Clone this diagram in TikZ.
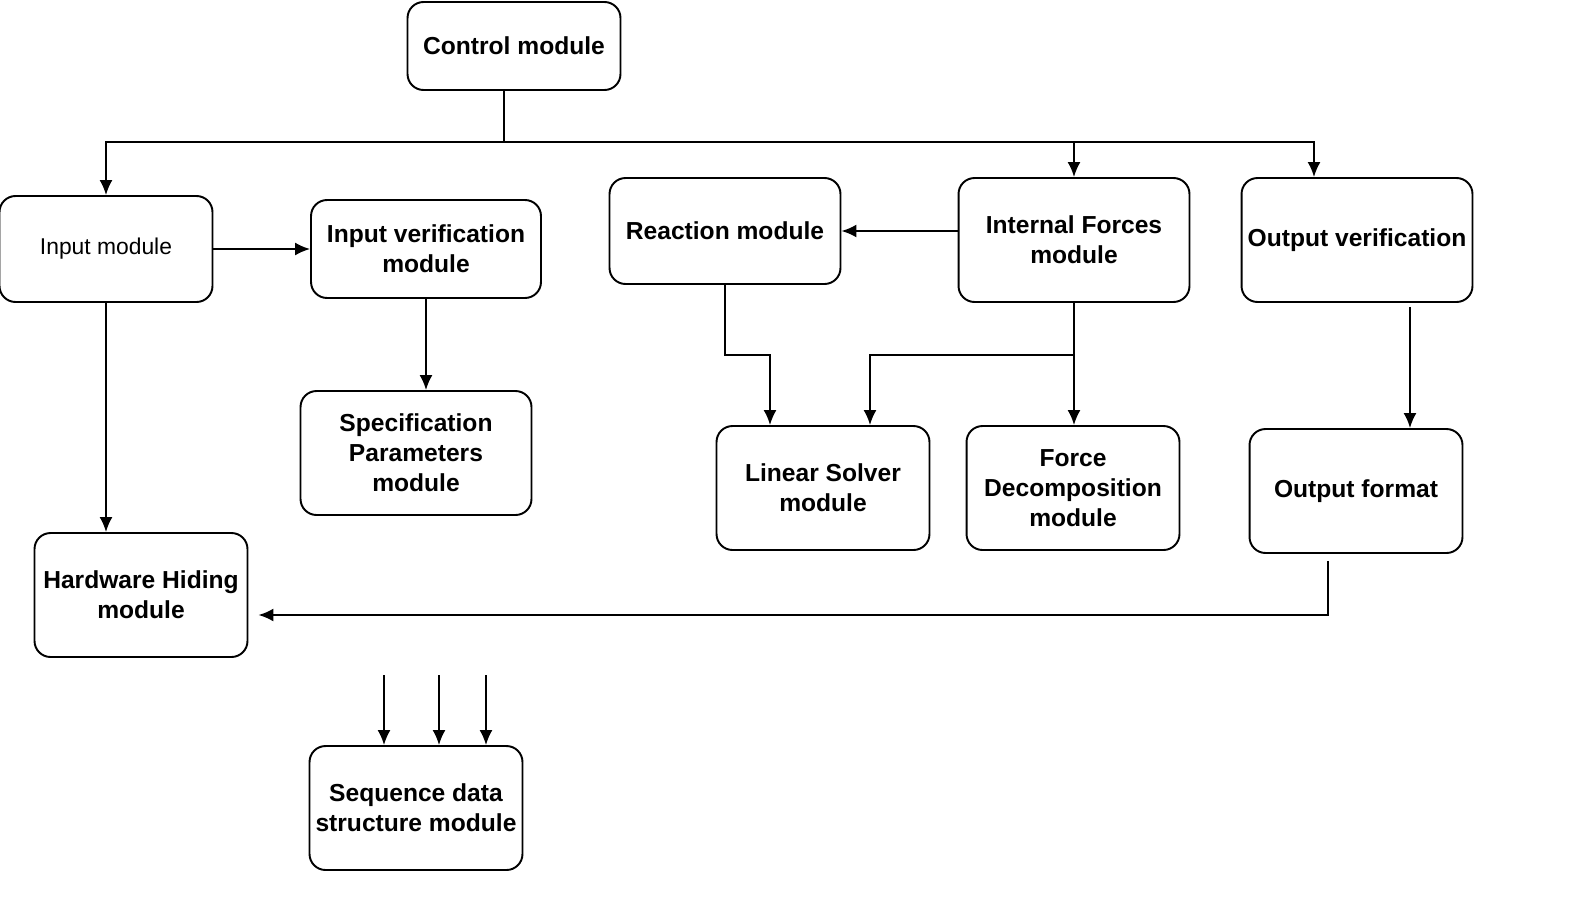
\documentclass[tikz,border=0pt]{standalone}
\usepackage{fontspec}
\setmainfont{Liberation Sans}
\usetikzlibrary{arrows.meta}
\begin{document}
\begin{tikzpicture}[x=0.02cm, y=-0.02cm, line width=1.1pt,
    link/.style={-{Latex[length=3mm,width=2.6mm]}},
    module/.style={draw, rounded corners=0.32cm, align=center, inner sep=2pt,
        font=\fontsize{14}{17}\selectfont\bfseries},
    plainmodule/.style={module, font=\fontsize{13}{16}\selectfont}]
            \useasboundingbox (0,0) rectangle (1574,900);

            % Boxes
            \node[module, minimum width=4.26cm, minimum height=1.76cm] (ctrl) at (514,46) {Control module};
            \node[plainmodule, minimum width=4.26cm, minimum height=2.12cm] (input) at (106,249) {Input module};
            \node[module, minimum width=4.6cm, minimum height=1.96cm] (inver) at (426,249) {Input verification\\module};
            \node[module, minimum width=4.62cm, minimum height=2.48cm] (spec) at (416,453) {Specification\\Parameters\\module};
            \node[module, minimum width=4.26cm, minimum height=2.48cm] (hw) at (141,595) {Hardware Hiding\\module};
            \node[module, minimum width=4.62cm, minimum height=2.12cm] (react) at (725,231) {Reaction module};
            \node[module, minimum width=4.62cm, minimum height=2.48cm] (intf) at (1074,240) {Internal Forces\\module};
            \node[module, minimum width=4.62cm, minimum height=2.48cm] (outver) at (1357,240) {Output verification};
            \node[module, minimum width=4.26cm, minimum height=2.48cm] (linsol) at (823,488) {Linear Solver\\module};
            \node[module, minimum width=4.26cm, minimum height=2.48cm] (fdec) at (1073,488) {Force\\Decomposition\\module};
            \node[module, minimum width=4.26cm, minimum height=2.48cm] (outfmt) at (1356,491) {Output format};
            \node[module, minimum width=4.26cm, minimum height=2.48cm] (seq) at (416,808) {Sequence data\\structure module};

            % Joints
            \coordinate (split) at (504,142);
            \coordinate (mid) at (0,355);

            % Arrows
            \draw (ctrl.south -| split) -- (split);
            \draw[link] (split) -| (input.north);
            \draw[link] (split) -| (intf.north);
            \draw[link] (split) -| ([xshift=-0.86cm]outver.north);
            \draw[link] (input.east) -- (inver.west |- input.east);
            \draw[link] (inver.south) -- (inver.south |- spec.north);
            \draw[link] (input.south) -- (input.south |- hw.north);
            \draw[link] (react.east -| intf.west) -- (react.east);
            \draw[link] (react.south) |- ([xshift=-1.06cm]linsol.north |- mid) -- ([xshift=-1.06cm]linsol.north);
            \draw[link] (intf.south) -- (intf.south |- fdec.north);
            \draw[link] (intf.south |- mid) -| ([xshift=0.94cm]linsol.north);
            \draw[link] ([xshift=1.06cm,yshift=-0.08cm]outver.south) -- ([xshift=1.06cm]outver.south |- outfmt.north);
            \draw[link] ([xshift=-0.56cm,yshift=-0.14cm]outfmt.south) |- ([xshift=0.2cm,yshift=-0.4cm]hw.east);
            \foreach \dx in {-0.64,0.46,1.4}
                \draw[link] ([xshift=\dx cm,yshift=1.4cm]seq.north) -- ([xshift=\dx cm]seq.north);
        \end{tikzpicture}
\end{document}
